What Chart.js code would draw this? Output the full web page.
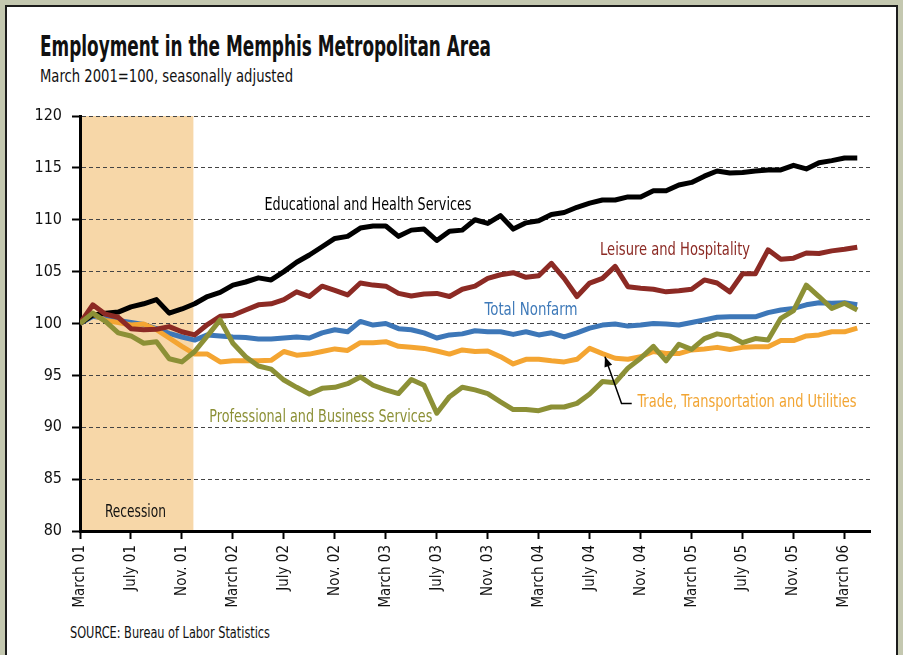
<!DOCTYPE html>
<html>
<head>
<meta charset="utf-8">
<title>Employment in the Memphis Metropolitan Area</title>
<script src="https://cdn.jsdelivr.net/npm/chart.js@4.4.1/dist/chart.umd.min.js"></script>
<style>
  html, body { margin: 0; padding: 0; }
  body {
    width: 903px; height: 655px; position: relative; overflow: hidden;
    background: #c4c8b0;
    font-family: 'Liberation Sans Narrow', 'DejaVu Sans Condensed', 'Liberation Sans', sans-serif;
  }
  #panel {
    position: absolute; left: 5px; top: 5px; width: 893px; height: 700px;
    box-sizing: border-box; background: #fff; border: 2px solid #1c1c1c;
  }
  .txt { position: absolute; white-space: nowrap; line-height: 1; transform-origin: 0 0; color: #111; }
  #title { left: 40px; top: 33px; font-size: 28px; font-weight: bold; }
  #subtitle { left: 40px; top: 68px; font-size: 17px; }
  #source { left: 70px; top: 625px; font-size: 16px; }
  canvas { position: absolute; left: 0; top: 0; }
</style>
</head>
<body>
<div id="panel"></div>
<div class="txt" id="title" data-w="451">Employment in the Memphis Metropolitan Area</div>
<div class="txt" id="subtitle" data-w="253">March 2001=100, seasonally adjusted</div>
<div class="txt" id="source" data-w="200">SOURCE: Bureau of Labor Statistics</div>
<canvas id="chart" width="903" height="655"></canvas>

<script>
// Monthly index, March 2001 = 100 (March 2001 .. April 2006)
const tickLabels = ['March 01', 'July 01', 'Nov. 01', 'March 02', 'July 02', 'Nov. 02',
  'March 03', 'July 03', 'Nov. 03', 'March 04', 'July 04', 'Nov. 04',
  'March 05', 'July 05', 'Nov. 05', 'March 06'];

const educHealth = [100.0, 100.8, 101.0, 101.1, 101.6, 101.9, 102.3, 101.0, 101.4, 101.9, 102.6,
  103.0, 103.7, 104.0, 104.4, 104.2, 105.0, 105.9, 106.6, 107.4, 108.2,
  108.4, 109.2, 109.4, 109.4, 108.4, 109.0, 109.1, 108.0, 108.9, 109.0,
  110.0, 109.65, 110.4, 109.1, 109.7, 109.9, 110.5, 110.7, 111.2, 111.6, 111.9,
  111.9, 112.2, 112.2, 112.8, 112.8, 113.35, 113.6, 114.2, 114.7, 114.5,
  114.55, 114.7, 114.8, 114.8, 115.25, 114.9, 115.5, 115.7, 115.95, 115.95];

const leisure = [100.0, 101.8, 100.9, 100.6, 99.5, 99.4, 99.45, 99.7, 99.2, 98.9, 99.9,
  100.7, 100.8, 101.3, 101.8, 101.9, 102.3, 103.05, 102.6, 103.6, 103.2,
  102.75, 103.9, 103.7, 103.6, 102.9, 102.65, 102.85, 102.9, 102.6, 103.3,
  103.6, 104.35, 104.7, 104.9, 104.45, 104.6, 105.8, 104.35, 102.6, 103.9, 104.35,
  105.5, 103.55, 103.4, 103.3, 103.05, 103.15, 103.3, 104.2, 103.9, 103.05,
  104.8, 104.8, 107.1, 106.2, 106.3, 106.8, 106.75, 107.0, 107.15, 107.35];

const totalNonfarm = [100.0, 100.7, 100.5, 100.3, 100.1, 99.9, 99.5, 99.05, 98.7, 98.4, 98.9,
  98.8, 98.7, 98.65, 98.5, 98.5, 98.6, 98.7, 98.6, 99.1, 99.4,
  99.2, 100.2, 99.85, 100.0, 99.5, 99.4, 99.1, 98.6, 98.9, 99.0,
  99.3, 99.2, 99.2, 98.95, 99.2, 98.9, 99.1, 98.7, 99.1, 99.55, 99.85,
  99.95, 99.75, 99.85, 100.0, 99.95, 99.85, 100.1, 100.35, 100.6, 100.65,
  100.65, 100.65, 101.05, 101.3, 101.45, 101.8, 102.0, 101.95, 102.0, 101.8];

const tradeTransUtil = [100.0, 100.9, 100.3, 100.1, 99.85, 99.95, 99.4, 98.6, 97.8, 97.05, 97.05,
  96.3, 96.4, 96.4, 96.4, 96.45, 97.3, 96.95, 97.05, 97.3, 97.55,
  97.4, 98.15, 98.15, 98.25, 97.8, 97.7, 97.6, 97.35, 97.05, 97.45,
  97.3, 97.35, 96.8, 96.1, 96.55, 96.55, 96.4, 96.3, 96.55, 97.6, 97.1,
  96.65, 96.55, 96.8, 97.3, 97.1, 97.1, 97.45, 97.55, 97.7, 97.5,
  97.7, 97.75, 97.75, 98.35, 98.35, 98.8, 98.9, 99.2, 99.2, 99.55];

const profBusiness = [100.0, 101.0, 100.2, 99.1, 98.8, 98.1, 98.25, 96.6, 96.3, 97.3, 98.8,
  100.35, 98.1, 96.8, 95.9, 95.6, 94.55, 93.85, 93.2, 93.75, 93.85,
  94.2, 94.85, 94.05, 93.6, 93.25, 94.6, 94.05, 91.35, 92.95, 93.85,
  93.6, 93.25, 92.45, 91.7, 91.7, 91.6, 91.95, 91.95, 92.3, 93.2, 94.4,
  94.3, 95.7, 96.65, 97.8, 96.4, 98.0, 97.5, 98.55, 99.0, 98.8,
  98.15, 98.55, 98.4, 100.5, 101.25, 103.7, 102.6, 101.45, 101.95, 101.3];

// recession: March 2001 through November 2001 (month index)
const recession = [0, 8.9];

const FONT = "'Liberation Sans Narrow', 'DejaVu Sans Condensed', 'Liberation Sans', sans-serif";

// squeeze the html titles to the condensed widths of the original
document.querySelectorAll('.txt[data-w]').forEach(el => {
  const w = el.getBoundingClientRect().width;
  el.style.transform = `scaleX(${el.dataset.w / w})`;
});

const toPoints = arr => arr.map((v, i) => ({ x: i, y: v }));

// top-most series first
const series = [
  { label: 'Professional and Business Services', data: profBusiness, color: '#8c9036' },
  { label: 'Leisure and Hospitality', data: leisure, color: '#8c2a24' },
  { label: 'Educational and Health Services', data: educHealth, color: '#000000' },
  { label: 'Trade, Transportation and Utilities', data: tradeTransUtil, color: '#f4a532' },
  { label: 'Total Nonfarm', data: totalNonfarm, color: '#3d77b8' }
];

// inline labels (x in months, y in index units), w = target text width
const notes = [
  { text: 'Educational and Health Services', x: 22.6, y: 111.4, w: 207, color: '#000000' },
  { text: 'Leisure and Hospitality', x: 46.7, y: 107.1, w: 150, color: '#8c2a24' },
  { text: 'Total Nonfarm', x: 35.4, y: 101.3, w: 93, color: '#3f7ab9' },
  { text: 'Professional and Business Services', x: 18.9, y: 91.0, w: 223, color: '#8c9036' },
  { text: 'Trade, Transportation and Utilities', x: 52.35, y: 92.4, w: 219, color: '#f2a533' },
  { text: 'Recession', x: 4.35, y: 81.8, w: 61, color: '#111111' }
];
const arrowPath = [[43.3, 92.3], [42.5, 92.3], [41.2, 96.8]];

const recessionShade = {
  id: 'recessionShade',
  beforeDraw(chart) {
    const { ctx, chartArea, scales: { x } } = chart;
    const x0 = x.getPixelForValue(recession[0]);
    const x1 = x.getPixelForValue(recession[1]);
    ctx.save();
    ctx.fillStyle = '#f7d7a8';
    ctx.fillRect(x0, chartArea.top, x1 - x0, chartArea.bottom - chartArea.top);
    ctx.restore();
  }
};

const inlineNotes = {
  id: 'inlineNotes',
  afterDatasetsDraw(chart) {
    const { ctx, scales: { x, y } } = chart;
    notes.forEach(n => {
      ctx.save();
      ctx.font = `18px ${FONT}`;
      ctx.fillStyle = n.color;
      ctx.textAlign = 'center';
      ctx.textBaseline = 'middle';
      const mw = ctx.measureText(n.text).width;
      ctx.translate(x.getPixelForValue(n.x), y.getPixelForValue(n.y));
      ctx.scale(n.w / mw, 1);
      ctx.fillText(n.text, 0, 0);
      ctx.restore();
    });

    // pointer from the trade label to its line
    const pts = arrowPath.map(p => [x.getPixelForValue(p[0]), y.getPixelForValue(p[1])]);
    ctx.save();
    ctx.strokeStyle = '#000';
    ctx.fillStyle = '#000';
    ctx.lineWidth = 1.5;
    ctx.beginPath();
    pts.forEach((p, i) => i ? ctx.lineTo(p[0], p[1]) : ctx.moveTo(p[0], p[1]));
    ctx.stroke();
    const [ax, ay] = pts[pts.length - 1];
    const [bx, by] = pts[pts.length - 2];
    const ang = Math.atan2(ay - by, ax - bx);
    ctx.translate(ax, ay);
    ctx.rotate(ang);
    ctx.beginPath();
    ctx.moveTo(0, 0);
    ctx.lineTo(-10, -4);
    ctx.lineTo(-10, 4);
    ctx.closePath();
    ctx.fill();
    ctx.restore();
  }
};

Chart.defaults.font.family = FONT;
Chart.defaults.color = '#111';

new Chart(document.getElementById('chart'), {
  type: 'line',
  data: {
    datasets: series.map(s => ({
      label: s.label,
      data: toPoints(s.data),
      borderColor: s.color,
      backgroundColor: s.color,
      borderWidth: 5,
      pointRadius: 0,
      tension: 0,
      borderJoinStyle: 'round',
      fill: false
    }))
  },
  options: {
    responsive: false,
    animation: false,
    layout: { padding: { left: 30, right: 33, top: 116, bottom: 34 } },
    plugins: { legend: { display: false }, tooltip: { enabled: false } },
    scales: {
      x: {
        type: 'linear',
        min: 0,
        max: 62,
        afterFit: s => { s.height = 90; },
        border: { color: '#000', width: 3 },
        grid: { drawOnChartArea: false, drawTicks: true, tickLength: 8, tickColor: '#000', tickWidth: 2 },
        ticks: {
          stepSize: 4,
          includeBounds: false,
          autoSkip: false,
          maxRotation: 90,
          minRotation: 90,
          padding: 6,
          font: { size: 15 },
          color: '#111',
          callback: v => tickLabels[v / 4] ?? ''
        }
      },
      y: {
        min: 80,
        max: 120,
        afterFit: s => { s.width = 50; },
        border: { color: '#000', width: 3, dash: [4, 3] },
        grid: { color: '#444', lineWidth: 1, tickLength: 8, tickColor: '#000', tickWidth: 2, tickBorderDash: [] },
        ticks: { stepSize: 5, padding: 10, font: { size: 16 }, color: '#111' }
      }
    }
  },
  plugins: [recessionShade, inlineNotes]
});
</script>
</body>
</html>
